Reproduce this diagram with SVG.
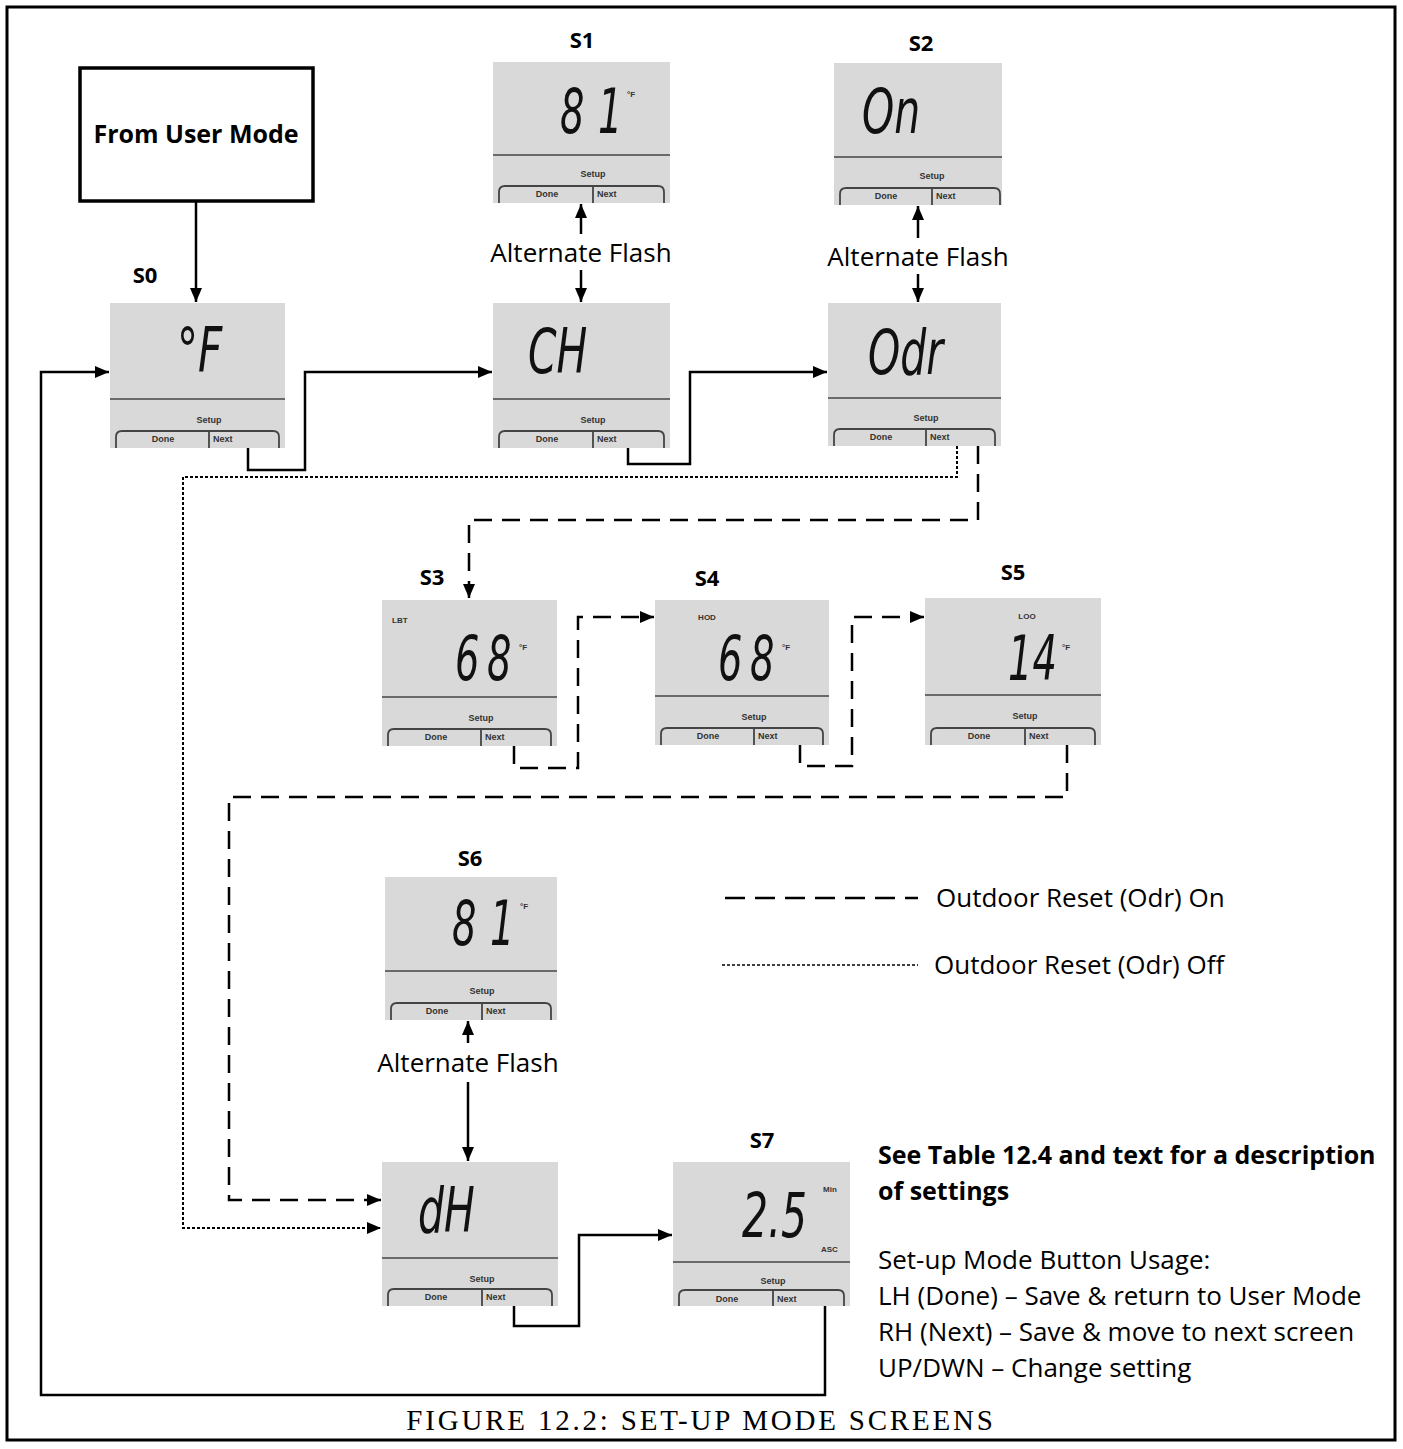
<svg xmlns="http://www.w3.org/2000/svg" width="1403" height="1449" viewBox="0 0 1403 1449">
<defs>
<style>
.lbl{font-family:"Open Sans",Lato,"Liberation Sans",sans-serif;font-weight:bold;font-size:22px;fill:#000;text-anchor:middle}
.txt{font-family:"Open Sans",Lato,"Liberation Sans",sans-serif;font-size:26px;fill:#000}
.scr{fill:#d9d9d9;stroke:none}
.sep{stroke:#6a6a6a;stroke-width:2}
.tab{fill:none;stroke:#444;stroke-width:1.8}
.sm{font-family:"Liberation Sans",Arial,sans-serif;font-size:9px;fill:#333;font-weight:bold}
.smc{font-family:"Liberation Sans",Arial,sans-serif;font-size:9px;fill:#333;font-weight:bold;text-anchor:middle}
.lcd{font-family:"DejaVu Sans",sans-serif;font-style:oblique;font-size:62px;fill:#111}
.solid{fill:none;stroke:#000;stroke-width:2.5}
.dash{fill:none;stroke:#000;stroke-width:2.5;stroke-dasharray:18 10}
.dot{fill:none;stroke:#000;stroke-width:2;stroke-dasharray:3 2}
</style>
<marker id="ah" viewBox="0 0 14 12" refX="14" refY="6" markerWidth="14" markerHeight="12" markerUnits="userSpaceOnUse" orient="auto">
<path d="M0,0 L14,6 L0,12 Z" fill="#000"/>
</marker>
</defs>
<rect x="7" y="7" width="1388" height="1433" fill="#fff" stroke="#000" stroke-width="3"/>

<g id="from-user-mode">
<rect x="80" y="68" width="233" height="133" fill="#fff" stroke="#000" stroke-width="3.5"/>
<text x="196" y="143" class="lbl" style="font-size:25px">From User Mode</text>
</g>

<g id="S0">
<text x="145" y="283" class="lbl">S0</text>
<rect class="scr" x="110" y="303" width="175" height="145"/>
<line class="sep" x1="110" y1="399" x2="285" y2="399"/>
<text class="smc" x="209" y="423">Setup</text>
<path class="tab" d="M116,448 V437 Q116,431 122,431 H209 M209,448 V431 H273 Q279,431 279,437 V448"/>
<text class="smc" x="163" y="442">Done</text>
<text class="sm" x="213" y="442">Next</text>
<text class="lcd" transform="translate(177,372) scale(0.68,1)">°F</text>
</g>

<g id="S1">
<text x="582" y="48" class="lbl">S1</text>
<rect class="scr" x="493" y="62" width="177" height="141"/>
<line class="sep" x1="493" y1="155" x2="670" y2="155"/>
<text class="smc" x="593" y="177">Setup</text>
<path class="tab" d="M499,203 V192 Q499,186 505,186 H593 M593,203 V186 H658 Q664,186 664,192 V203"/>
<text class="smc" x="547" y="197">Done</text>
<text class="sm" x="597" y="197">Next</text>
<text class="lcd" transform="translate(560,133) scale(0.62,1)">8<tspan dx="22">1</tspan></text>
<text class="sm" x="627" y="97" style="font-size:8px">°F</text>
</g>

<g id="S1-CH">
<rect class="scr" x="493" y="303" width="177" height="145"/>
<line class="sep" x1="493" y1="399" x2="670" y2="399"/>
<text class="smc" x="593" y="423">Setup</text>
<path class="tab" d="M499,448 V437 Q499,431 505,431 H593 M593,448 V431 H658 Q664,431 664,437 V448"/>
<text class="smc" x="547" y="442">Done</text>
<text class="sm" x="597" y="442">Next</text>
<text class="lcd" transform="translate(528,373) scale(0.66,1)">CH</text>
</g>

<g id="S2">
<text x="921" y="51" class="lbl">S2</text>
<rect class="scr" x="834" y="63" width="168" height="142"/>
<line class="sep" x1="834" y1="157" x2="1002" y2="157"/>
<text class="smc" x="932" y="179">Setup</text>
<path class="tab" d="M840,205 V194 Q840,188 846,188 H932 M932,205 V188 H994 Q1000,188 1000,194 V205"/>
<text class="smc" x="886" y="199">Done</text>
<text class="sm" x="936" y="199">Next</text>
<text class="lcd" transform="translate(862,133) scale(0.66,1)">On</text>
</g>

<g id="S2-Odr">
<rect class="scr" x="828" y="303" width="173" height="143"/>
<line class="sep" x1="828" y1="398" x2="1001" y2="398"/>
<text class="smc" x="926" y="421">Setup</text>
<path class="tab" d="M834,446 V435 Q834,429 840,429 H926 M926,446 V429 H989 Q995,429 995,435 V446"/>
<text class="smc" x="881" y="440">Done</text>
<text class="sm" x="930" y="440">Next</text>
<text class="lcd" transform="translate(868,374) scale(0.66,1)">Odr</text>
</g>

<g id="S3">
<text x="432" y="585" class="lbl">S3</text>
<rect class="scr" x="382" y="600" width="175" height="146"/>
<line class="sep" x1="382" y1="697" x2="557" y2="697"/>
<text class="smc" x="481" y="721">Setup</text>
<path class="tab" d="M388,746 V735 Q388,729 394,729 H481 M481,746 V729 H545 Q551,729 551,735 V746"/>
<text class="smc" x="436" y="740">Done</text>
<text class="sm" x="485" y="740">Next</text>
<text class="sm" x="392" y="623" style="font-size:8px">LBT</text>
<text class="lcd" transform="translate(455,680) scale(0.62,1)">6<tspan dx="12">8</tspan></text>
<text class="sm" x="519" y="650" style="font-size:8px">°F</text>
</g>

<g id="S4">
<text x="707" y="586" class="lbl">S4</text>
<rect class="scr" x="655" y="600" width="174" height="145"/>
<line class="sep" x1="655" y1="696" x2="829" y2="696"/>
<text class="smc" x="754" y="720">Setup</text>
<path class="tab" d="M661,745 V734 Q661,728 667,728 H754 M754,745 V728 H817 Q823,728 823,734 V745"/>
<text class="smc" x="708" y="739">Done</text>
<text class="sm" x="758" y="739">Next</text>
<text class="smc" x="707" y="620" style="font-size:8px">HOD</text>
<text class="lcd" transform="translate(718,680) scale(0.62,1)">6<tspan dx="12">8</tspan></text>
<text class="sm" x="782" y="650" style="font-size:8px">°F</text>
</g>

<g id="S5">
<text x="1013" y="580" class="lbl">S5</text>
<rect class="scr" x="925" y="598" width="176" height="147"/>
<line class="sep" x1="925" y1="695" x2="1101" y2="695"/>
<text class="smc" x="1025" y="719">Setup</text>
<path class="tab" d="M931,745 V734 Q931,728 937,728 H1025 M1025,745 V728 H1089 Q1095,728 1095,734 V745"/>
<text class="smc" x="979" y="739">Done</text>
<text class="sm" x="1029" y="739">Next</text>
<text class="smc" x="1027" y="619" style="font-size:8px">LOO</text>
<text class="lcd" transform="translate(1008,680) scale(0.62,1)">14</text>
<text class="sm" x="1062" y="650" style="font-size:8px">°F</text>
</g>

<g id="S6">
<text x="470" y="866" class="lbl">S6</text>
<rect class="scr" x="385" y="877" width="172" height="143"/>
<line class="sep" x1="385" y1="971" x2="557" y2="971"/>
<text class="smc" x="482" y="994">Setup</text>
<path class="tab" d="M391,1020 V1009 Q391,1003 397,1003 H482 M482,1020 V1003 H545 Q551,1003 551,1009 V1020"/>
<text class="smc" x="437" y="1014">Done</text>
<text class="sm" x="486" y="1014">Next</text>
<text class="lcd" transform="translate(452,945) scale(0.62,1)">8<tspan dx="22">1</tspan></text>
<text class="sm" x="520" y="909" style="font-size:8px">°F</text>
</g>

<g id="S6-dH">
<rect class="scr" x="382" y="1162" width="176" height="144"/>
<line class="sep" x1="382" y1="1258" x2="558" y2="1258"/>
<text class="smc" x="482" y="1282">Setup</text>
<path class="tab" d="M388,1306 V1295 Q388,1289 394,1289 H482 M482,1306 V1289 H546 Q552,1289 552,1295 V1306"/>
<text class="smc" x="436" y="1300">Done</text>
<text class="sm" x="486" y="1300">Next</text>
<text class="lcd" transform="translate(418,1232) scale(0.66,1)">dH</text>
</g>

<g id="S7">
<text x="762" y="1148" class="lbl">S7</text>
<rect class="scr" x="673" y="1162" width="177" height="144"/>
<line class="sep" x1="673" y1="1262" x2="850" y2="1262"/>
<text class="smc" x="773" y="1284">Setup</text>
<path class="tab" d="M679,1306 V1296 Q679,1290 685,1290 H773 M773,1306 V1290 H838 Q844,1290 844,1296 V1306"/>
<text class="smc" x="727" y="1302">Done</text>
<text class="sm" x="777" y="1302">Next</text>
<text class="sm" x="823" y="1192" style="font-size:8px">Min</text>
<text class="lcd" transform="translate(742,1237) scale(0.66,1)">2.5</text>
<text class="sm" x="821" y="1252" style="font-size:8px">ASC</text>
</g>

<g id="connectors">
<path class="solid" d="M196,201 V302" marker-end="url(#ah)"/>
<path class="solid" d="M248,448 V470 H305 V372 H492" marker-end="url(#ah)"/>
<path class="solid" d="M628,448 V464 H690 V372 H827" marker-end="url(#ah)"/>
<path class="solid" d="M581,234 V204" marker-end="url(#ah)"/>
<path class="solid" d="M581,270 V302" marker-end="url(#ah)"/>
<path class="solid" d="M918,238 V206" marker-end="url(#ah)"/>
<path class="solid" d="M918,274 V302" marker-end="url(#ah)"/>
<path class="solid" d="M468,1043 V1021" marker-end="url(#ah)"/>
<path class="solid" d="M468,1082 V1161" marker-end="url(#ah)"/>
<path class="solid" d="M514,1306 V1326 H579 V1235 H672" marker-end="url(#ah)"/>
<path class="solid" d="M825,1306 V1395 H41 V372 H109" marker-end="url(#ah)"/>
<path class="dash" d="M978,446 V520 H469 V598" marker-end="url(#ah)"/>
<path class="dash" d="M514,746 V768 H578 V617 H654" marker-end="url(#ah)"/>
<path class="dash" d="M800,745 V766 H852 V617 H924" marker-end="url(#ah)"/>
<path class="dash" d="M1067,745 V797 H229 V1200 H381" marker-end="url(#ah)"/>
<path class="dot" d="M957,446 V477 H183 V1228 H381" marker-end="url(#ah)"/>
</g>

<g id="flash-labels">
<text class="txt" x="581" y="262" text-anchor="middle">Alternate Flash</text>
<text class="txt" x="918" y="266" text-anchor="middle">Alternate Flash</text>
<text class="txt" x="468" y="1072" text-anchor="middle">Alternate Flash</text>
</g>

<g id="legend">
<line class="dash" x1="725" y1="898" x2="918" y2="898" style="stroke-dasharray:20 10"/>
<text class="txt" x="936" y="907">Outdoor Reset (Odr) On</text>
<line class="dot" x1="722" y1="965" x2="918" y2="965" style="stroke-width:1.5"/>
<text class="txt" x="934" y="974">Outdoor Reset (Odr) Off</text>
</g>

<g id="notes">
<text class="txt" x="878" y="1164" font-weight="bold" style="font-size:25px">See Table 12.4 and text for a description</text>
<text class="txt" x="878" y="1200" font-weight="bold" style="font-size:25px">of settings</text>
<text class="txt" x="878" y="1269">Set-up Mode Button Usage:</text>
<text class="txt" x="878" y="1305">LH (Done) – Save &amp; return to User Mode</text>
<text class="txt" x="878" y="1341">RH (Next) – Save &amp; move to next screen</text>
<text class="txt" x="878" y="1377">UP/DWN – Change setting</text>
</g>

<text x="701" y="1430" text-anchor="middle" style="font-family:'Liberation Serif','Times New Roman',serif;font-size:29px;letter-spacing:2.8px;fill:#000">FIGURE 12.2: SET-UP MODE SCREENS</text>
</svg>
